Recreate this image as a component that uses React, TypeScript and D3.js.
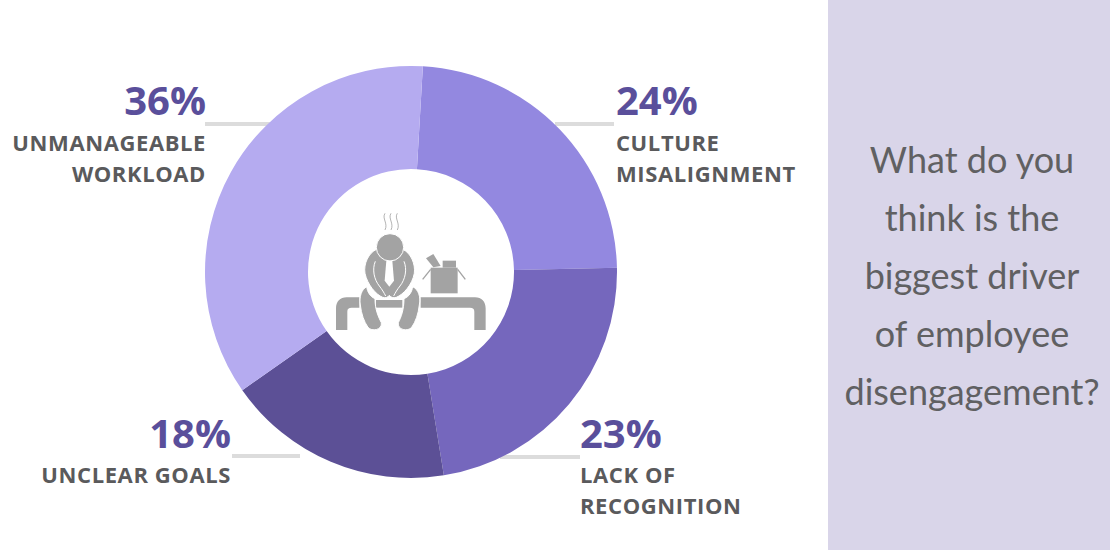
import React, { useEffect, useRef } from 'react';
import * as d3 from 'd3';

const categories = ['CULTURE\nMISALIGNMENT', 'LACK OF\nRECOGNITION', 'UNCLEAR GOALS', 'UNMANAGEABLE\nWORKLOAD'];
const percentages = [24, 23, 18, 36];
const sliceColors = ['#9388e0', '#7567bd', '#5c5096', '#b5abf0'];
const questionLines = ['What do you', 'think is the', 'biggest driver', 'of employee', 'disengagement?'];

// where each label block sits on the page
const labelLayout = [
  { x: 616, y: 115, labelY: 151, anchor: 'start', lineY: 124, x1: 555, x2: 614 },
  { x: 580, y: 448, labelY: 483, anchor: 'start', lineY: 457, x1: 500, x2: 580 },
  { x: 231, y: 448, labelY: 483, anchor: 'end', lineY: 456, x1: 232, x2: 300 },
  { x: 206, y: 115, labelY: 151, anchor: 'end', lineY: 124, x1: 205, x2: 270 },
];

const WIDTH = 1110;
const HEIGHT = 550;
const cx = 411;
const cy = 272;

const App: React.FC = () => {
  const svgRef = useRef<SVGSVGElement>(null);

  useEffect(() => {
    if (!svgRef.current) return;
    const svg = d3.select(svgRef.current);
    svg.selectAll('*').remove();

    svg.append('rect').attr('width', WIDTH).attr('height', HEIGHT).attr('fill', '#ffffff');
    svg.append('rect').attr('x', 828).attr('width', WIDTH - 828).attr('height', HEIGHT).attr('fill', '#d9d5e9');

    // Leader lines go under the donut
    svg.selectAll('line.leader')
      .data(labelLayout)
      .enter()
      .append('line')
      .attr('x1', d => d.x1)
      .attr('x2', d => d.x2)
      .attr('y1', d => d.lineY)
      .attr('y2', d => d.lineY)
      .attr('stroke', '#dcdcdc')
      .attr('stroke-width', 4);

    const start = (3.3 * Math.PI) / 180;
    const pie = d3.pie<number>().sort(null).startAngle(start).endAngle(start + 2 * Math.PI);
    const arc = d3.arc<d3.PieArcDatum<number>>().innerRadius(103).outerRadius(206);

    svg.append('g')
      .attr('transform', `translate(${cx},${cy})`)
      .selectAll('path')
      .data(pie(percentages))
      .enter()
      .append('path')
      .attr('d', arc)
      .attr('fill', (_, i) => sliceColors[i]);

    // Percent + label text
    labelLayout.forEach((pos, i) => {
      const g = svg.append('g').attr('text-anchor', pos.anchor).attr('font-family', '"Open Sans", sans-serif').attr('font-weight', 700);
      g.append('text')
        .attr('x', pos.x)
        .attr('y', pos.y)
        .attr('font-size', 40)
        .attr('fill', '#5a4f9b')
        .text(`${percentages[i]}%`);
      categories[i].split('\n').forEach((line, j) => {
        g.append('text')
          .attr('x', pos.x)
          .attr('y', pos.labelY + j * 31)
          .attr('font-size', 22)
          .attr('letter-spacing', 0.6)
          .attr('fill', '#5a5a5c')
          .text(line);
      });
    });

    // Question panel
    svg.append('g')
      .selectAll('text')
      .data(questionLines)
      .enter()
      .append('text')
      .attr('x', 972)
      .attr('y', (_, i) => 173 + i * 58)
      .attr('text-anchor', 'middle')
      .attr('font-family', 'Lato, sans-serif')
      .attr('font-weight', 400)
      .attr('font-size', 36)
      .attr('fill', '#606062')
      .text(d => d);

    // Centre icon, drawn in a 3x space
    const icon = svg.append('g').attr('transform', 'translate(320,190) scale(0.3333)').attr('fill', '#a3a3a3');
    const solids = [
      'M118,322 L80,322 C60,322 48,335 48,355 L48,420 L82,420 L82,365 C82,356 86,353 95,353 L118,353 Z',
      'M168,330 L247,330 L247,353 L168,353 Z',
      'M302,322 L465,322 C485,322 497,335 497,355 L497,420 L463,420 L463,365 C463,356 459,353 450,353 L302,353 Z',
      'M332,233 L413,233 L413,310 L332,310 Z',
      'M368,212 L408,212 L408,233 L368,233 Z',
      'M318,205 L340,192 L362,228 L340,232 Z',
    ];
    icon.selectAll('path.solid')
      .data(solids)
      .enter()
      .append('path')
      .attr('d', d => d);

    // legs, torso and head carry a white outline so they read apart
    const outlined = [
      'M140,290 C125,298 117,320 121,345 C124,372 132,395 144,412 C155,426 188,420 184,398 C176,382 165,360 165,326 C150,320 142,305 140,290 Z',
      'M278,290 C295,298 303,320 298,345 C295,372 287,395 275,412 C264,426 231,420 235,398 C243,382 252,360 252,326 C268,320 276,305 278,290 Z',
      'M170,178 C146,188 130,222 135,250 C142,284 168,314 188,322 C197,325 204,322 208,316 C212,322 220,325 229,322 C250,314 277,284 283,250 C287,222 272,188 248,178 Z',
    ];
    icon.selectAll('path.outlined')
      .data(outlined)
      .enter()
      .append('path')
      .attr('d', d => d)
      .attr('stroke', '#ffffff')
      .attr('stroke-width', 3);
    icon.append('circle').attr('cx', 210).attr('cy', 172).attr('r', 41).attr('stroke', '#ffffff').attr('stroke-width', 3);
    icon.append('path').attr('d', 'M199,212 L217,212 L222,272 L208,290 L194,272 Z').attr('fill', '#ffffff');

    const cuts = [
      'M166,214 C156,238 162,268 178,288 C186,298 192,308 197,318',
      'M252,214 C262,238 256,268 240,288 C232,298 226,308 221,318',
    ];
    icon.selectAll('path.cut')
      .data(cuts)
      .enter()
      .append('path')
      .attr('d', d => d)
      .attr('fill', 'none')
      .attr('stroke', '#ffffff')
      .attr('stroke-width', 3);

    const flaps = ['M308,268 L332,238', 'M413,238 L436,268'];
    icon.selectAll('path.flap')
      .data(flaps)
      .enter()
      .append('path')
      .attr('d', d => d)
      .attr('fill', 'none')
      .attr('stroke', '#a3a3a3')
      .attr('stroke-width', 4);

    const steam = [195, 213, 232];
    icon.selectAll('path.steam')
      .data(steam)
      .enter()
      .append('path')
      .attr('d', d => `M${d},70 C${d - 10},85 ${d + 10},100 ${d},120`)
      .attr('fill', 'none')
      .attr('stroke', '#a3a3a3')
      .attr('stroke-width', 2.5);
  }, []);

  return <svg ref={svgRef} width={WIDTH} height={HEIGHT} style={{ position: 'absolute', left: 0, top: 0 }} />;
};

export default App;
